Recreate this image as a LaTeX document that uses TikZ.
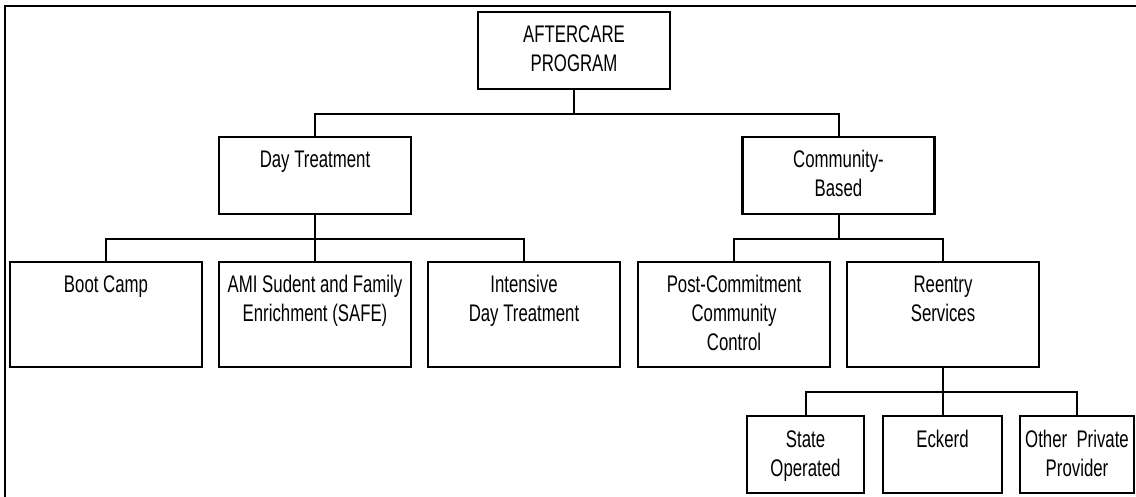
\documentclass[tikz,border=0pt]{standalone}
\usepackage{fontspec}
\setmainfont{Liberation Sans}[FakeStretch=0.7]
\usetikzlibrary{positioning}
\tikzset{
    unit/.style={rectangle, draw=black, line width=2.2pt, inner sep=0pt, outer sep=0pt, align=flush center, text width=192pt, text height=31pt, font=\fontsize{24}{29}\selectfont},
    short/.style={unit, text depth=46pt},
    tall/.style={unit, text depth=74pt},
    small/.style={short, text width=117pt},
    link/.style={line width=2pt},
}
\begin{document}
\begin{tikzpicture}[x=1pt,y=-1pt]
  \useasboundingbox (0,0) rectangle (1136,497);
  % frame
  \draw[link] (5,497) |- (1136,6);

  \node[short, anchor=north] (prog) at (574,12) {AFTERCARE\\PROGRAM};
  \node[short, anchor=north] (day)  at (315,137) {Day Treatment};
  \node[short, anchor=north] (comm) at (838.5,137) {Community-\\Based};

  \node[tall, anchor=north] (boot) at (106,262) {Boot Camp};
  \node[tall, right=17pt of boot]      (safe)      {AMI Sudent and Family\\Enrichment (SAFE)};
  \node[tall, right=17pt of safe]      (intensive) {Intensive\\Day Treatment};
  \node[tall, right=18pt of intensive] (post)      {Post-Commitment\\Community\\Control};
  \node[tall, right=17pt of post]      (reentry)   {Reentry\\Services};

  \node[small, anchor=north] (state) at (805.5,416) {State\\Operated};
  \node[small, text width=119pt, right=19pt of state]  (eckerd) {Eckerd};
  \node[small, text width=114pt, right=18pt of eckerd] (other)  {Other\ \ Private\\Provider};

  \draw[link] (prog.south) -- ++(0,25) -| (day.north);
  \draw[link] (prog.south) -- ++(0,25) -| (comm.north);
  \foreach \child in {boot, safe, intensive}
    \draw[link] (day.south) -- ++(0,25) -| (\child.north);
  \foreach \child in {post, reentry}
    \draw[link] (comm.south) -- ++(0,25) -| (\child.north);
  \foreach \child in {state, eckerd, other}
    \draw[link] (reentry.south) -- ++(0,25) -| (\child.north);
\end{tikzpicture}
\end{document}
